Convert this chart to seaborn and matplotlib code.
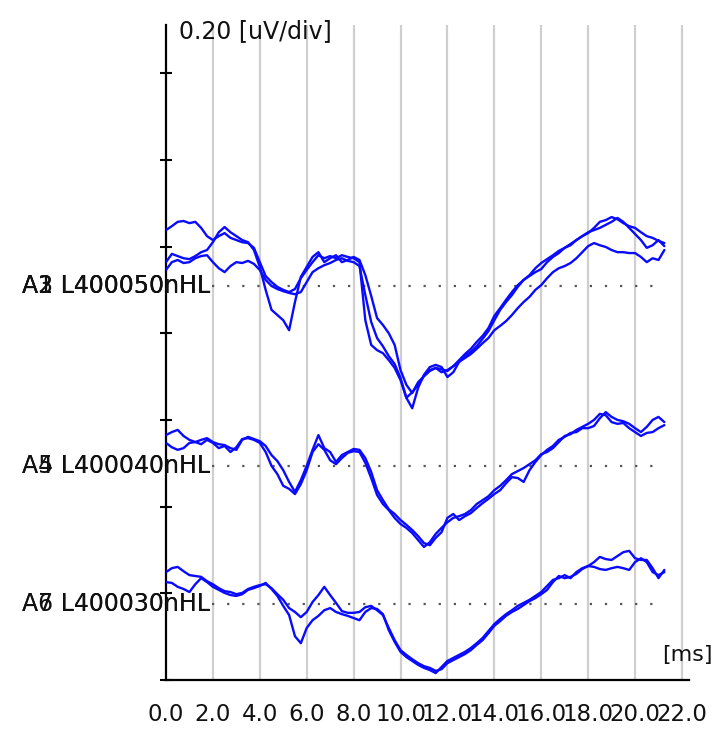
import numpy as np
import pandas as pd
import seaborn as sns
import matplotlib
matplotlib.use("Agg")
import matplotlib.pyplot as plt


# sample times (ms), 0.25 ms step, 0 .. 21.25
TIME_MS = np.arange(0, 21.5, 0.25)

# trace amplitudes in uV (absolute position on the 0.20 uV/div scale)
A1 = [1.038, 1.047, 1.057, 1.059, 1.054, 1.057, 1.043, 1.024, 1.015, 1.024, 1.031, 1.020,
      1.015, 1.010, 1.008, 0.997, 0.964, 0.932, 0.918, 0.907, 0.900, 0.895, 0.902, 0.927,
      0.946, 0.964, 0.980, 0.973, 0.978, 0.973, 0.980, 0.976, 0.973, 0.964, 0.830, 0.773,
      0.761, 0.754, 0.738, 0.720, 0.692, 0.651, 0.627, 0.674, 0.704, 0.722, 0.727, 0.722,
      0.699, 0.710, 0.734, 0.747, 0.757, 0.770, 0.787, 0.805, 0.830, 0.854, 0.872, 0.888,
      0.907, 0.923, 0.932, 0.941, 0.948, 0.964, 0.976, 0.985, 0.997, 1.003, 1.015, 1.024,
      1.031, 1.043, 1.057, 1.061, 1.068, 1.063, 1.054, 1.047, 1.043, 1.033, 1.024, 1.020,
      1.013, 1.008]
A2 = [0.964, 0.983, 0.978, 0.973, 0.971, 0.978, 0.987, 0.992, 1.010, 1.033, 1.045, 1.033,
      1.024, 1.015, 1.010, 0.992, 0.953, 0.900, 0.854, 0.842, 0.830, 0.807, 0.872, 0.930,
      0.953, 0.976, 0.987, 0.964, 0.973, 0.980, 0.964, 0.969, 0.976, 0.969, 0.934, 0.886,
      0.835, 0.819, 0.800, 0.773, 0.715, 0.681, 0.662, 0.687, 0.701, 0.715, 0.720, 0.710,
      0.715, 0.724, 0.734, 0.743, 0.752, 0.764, 0.777, 0.789, 0.807, 0.817, 0.828, 0.842,
      0.858, 0.872, 0.884, 0.900, 0.911, 0.927, 0.941, 0.950, 0.955, 0.962, 0.973, 0.987,
      1.001, 1.008, 1.003, 0.999, 0.992, 0.987, 0.987, 0.985, 0.985, 0.976, 0.964, 0.973,
      0.969, 0.992]
A3 = [0.946, 0.964, 0.969, 0.962, 0.964, 0.973, 0.978, 0.980, 0.964, 0.950, 0.941, 0.955,
      0.964, 0.962, 0.967, 0.960, 0.946, 0.923, 0.909, 0.902, 0.897, 0.893, 0.890, 0.895,
      0.918, 0.941, 0.950, 0.957, 0.962, 0.969, 0.973, 0.967, 0.964, 0.955, 0.888, 0.826,
      0.789, 0.770, 0.747, 0.729, 0.697, 0.651, 0.664, 0.681, 0.701, 0.713, 0.720, 0.717,
      0.713, 0.724, 0.738, 0.752, 0.764, 0.780, 0.794, 0.812, 0.840, 0.858, 0.877, 0.895,
      0.911, 0.923, 0.934, 0.950, 0.962, 0.971, 0.980, 0.990, 0.997, 1.006, 1.015, 1.024,
      1.033, 1.038, 1.043, 1.050, 1.057, 1.066, 1.057, 1.043, 1.029, 1.015, 0.997, 1.003,
      1.015, 1.001]
A4 = [0.565, 0.572, 0.577, 0.563, 0.554, 0.549, 0.554, 0.558, 0.549, 0.544, 0.542, 0.535,
      0.531, 0.554, 0.561, 0.556, 0.551, 0.540, 0.519, 0.505, 0.484, 0.457, 0.434, 0.461,
      0.494, 0.531, 0.565, 0.535, 0.526, 0.503, 0.519, 0.526, 0.533, 0.531, 0.512, 0.480,
      0.438, 0.415, 0.394, 0.383, 0.369, 0.358, 0.346, 0.332, 0.316, 0.311, 0.328, 0.341,
      0.374, 0.383, 0.369, 0.378, 0.385, 0.397, 0.408, 0.418, 0.429, 0.438, 0.454, 0.468,
      0.466, 0.457, 0.484, 0.503, 0.519, 0.531, 0.540, 0.554, 0.561, 0.570, 0.572, 0.581,
      0.581, 0.586, 0.604, 0.618, 0.607, 0.600, 0.597, 0.591, 0.581, 0.572, 0.584, 0.600,
      0.607, 0.595]
A5 = [0.547, 0.537, 0.531, 0.535, 0.547, 0.549, 0.544, 0.554, 0.547, 0.535, 0.540, 0.526,
      0.537, 0.556, 0.558, 0.554, 0.547, 0.526, 0.494, 0.475, 0.448, 0.441, 0.429, 0.452,
      0.484, 0.526, 0.544, 0.531, 0.507, 0.498, 0.512, 0.524, 0.528, 0.526, 0.501, 0.466,
      0.427, 0.406, 0.392, 0.374, 0.360, 0.351, 0.339, 0.323, 0.307, 0.318, 0.337, 0.351,
      0.364, 0.374, 0.378, 0.383, 0.392, 0.406, 0.415, 0.424, 0.438, 0.448, 0.461, 0.475,
      0.482, 0.489, 0.498, 0.507, 0.521, 0.526, 0.535, 0.549, 0.563, 0.567, 0.577, 0.584,
      0.591, 0.600, 0.614, 0.611, 0.595, 0.591, 0.593, 0.581, 0.572, 0.563, 0.570, 0.572,
      0.581, 0.588]
A6 = [0.249, 0.258, 0.261, 0.251, 0.242, 0.240, 0.238, 0.228, 0.221, 0.212, 0.205, 0.203,
      0.198, 0.201, 0.210, 0.215, 0.219, 0.221, 0.212, 0.198, 0.185, 0.166, 0.157, 0.145,
      0.157, 0.180, 0.196, 0.215, 0.196, 0.178, 0.159, 0.155, 0.155, 0.157, 0.168, 0.171,
      0.161, 0.150, 0.120, 0.092, 0.069, 0.058, 0.048, 0.039, 0.032, 0.028, 0.021, 0.025,
      0.039, 0.046, 0.053, 0.060, 0.069, 0.081, 0.092, 0.108, 0.125, 0.136, 0.148, 0.157,
      0.164, 0.173, 0.182, 0.189, 0.198, 0.208, 0.226, 0.240, 0.235, 0.238, 0.245, 0.256,
      0.263, 0.272, 0.284, 0.279, 0.277, 0.286, 0.295, 0.298, 0.281, 0.277, 0.277, 0.258,
      0.235, 0.254]
A7 = [0.226, 0.224, 0.215, 0.210, 0.203, 0.221, 0.235, 0.226, 0.215, 0.208, 0.201, 0.196,
      0.194, 0.198, 0.208, 0.212, 0.217, 0.224, 0.210, 0.194, 0.171, 0.150, 0.101, 0.085,
      0.120, 0.138, 0.148, 0.161, 0.166, 0.157, 0.152, 0.148, 0.143, 0.138, 0.157, 0.166,
      0.164, 0.152, 0.115, 0.088, 0.065, 0.053, 0.044, 0.035, 0.028, 0.023, 0.016, 0.030,
      0.044, 0.051, 0.058, 0.065, 0.074, 0.085, 0.097, 0.113, 0.129, 0.141, 0.152, 0.161,
      0.171, 0.178, 0.185, 0.194, 0.203, 0.217, 0.231, 0.235, 0.242, 0.235, 0.249, 0.258,
      0.263, 0.261, 0.256, 0.254, 0.258, 0.261, 0.258, 0.254, 0.272, 0.281, 0.272, 0.249,
      0.242, 0.249]

# groups: traces, level label, baseline in uV
GROUP_TRACES = [["A1", "A2", "A3"], ["A4", "A5"], ["A6", "A7"]]
GROUP_LEVELS = ["L400050nHL", "L400040nHL", "L400030nHL"]
GROUP_BASELINES = [0.909, 0.494, 0.175]

X_TICKS = [0.0, 2.0, 4.0, 6.0, 8.0, 10.0, 12.0, 14.0, 16.0, 18.0, 20.0, 22.0]
Y_TICKS = [0.0, 0.2, 0.4, 0.6, 0.8, 1.0, 1.2, 1.4]
SCALE_LABEL = "0.20 [uV/div]"
X_UNIT = "[ms]"

traces = {"A1": A1, "A2": A2, "A3": A3, "A4": A4, "A5": A5, "A6": A6, "A7": A7}
df = pd.concat(
    [pd.DataFrame({"t": TIME_MS, "uV": vals, "trace": name}) for name, vals in traces.items()],
    ignore_index=True,
)

sns.set_style("white")
plt.rcParams["font.family"] = ["DejaVu Sans"]

fig = plt.figure(figsize=(7.21, 7.32), dpi=100)
ax = fig.add_axes([0.2302, 0.0710, 0.7254, 0.8948])

# vertical grid (every 2 ms, not at 0)
for x in X_TICKS[1:]:
    ax.axvline(x, color="#cfcfcf", lw=1.6, zorder=0)

# dotted baselines
for base in GROUP_BASELINES:
    ax.plot([1.97, 21.15], [base, base], color="#555555", lw=1.6,
            linestyle=(0, (1, 5.8)), zorder=1)

sns.lineplot(data=df, x="t", y="uV", hue="trace", units="trace", estimator=None,
             palette=["#0a0aff"] * len(traces), lw=1.7, legend=False, ax=ax, zorder=3)

# overlapped channel labels
for names, level, base in zip(GROUP_TRACES, GROUP_LEVELS, GROUP_BASELINES):
    for nm in names:
        ax.text(1.876, base, f"{nm} {level}", ha="right", va="center",
                fontsize=17, color="#111111", zorder=4, clip_on=False)

ax.text(0.55, 1.497, SCALE_LABEL, ha="left", va="center", fontsize=17,
        color="#111111", clip_on=False)
ax.text(23.3, 0.058, X_UNIT, ha="right", va="center", fontsize=16,
        color="#111111", clip_on=False)

ax.set_xlim(0, 22.3)
ax.set_ylim(0, 1.511)
ax.set_xticks(X_TICKS)
ax.set_xticklabels([f"{v:.1f}" for v in X_TICKS])
ax.set_yticks(Y_TICKS)
ax.set_yticklabels([])
ax.tick_params(axis="x", direction="inout", length=7, width=1.5, color="black",
               labelsize=16.5, pad=13, labelcolor="#111111")
ax.tick_params(axis="y", direction="inout", length=9, width=1.5, color="black",
               left=True)
ax.set_xlabel("")
ax.set_ylabel("")

for side in ["top", "right"]:
    ax.spines[side].set_visible(False)
for side in ["left", "bottom"]:
    ax.spines[side].set_color("black")
    ax.spines[side].set_linewidth(1.6)

fig.savefig("out.png", dpi=100, facecolor="white")
